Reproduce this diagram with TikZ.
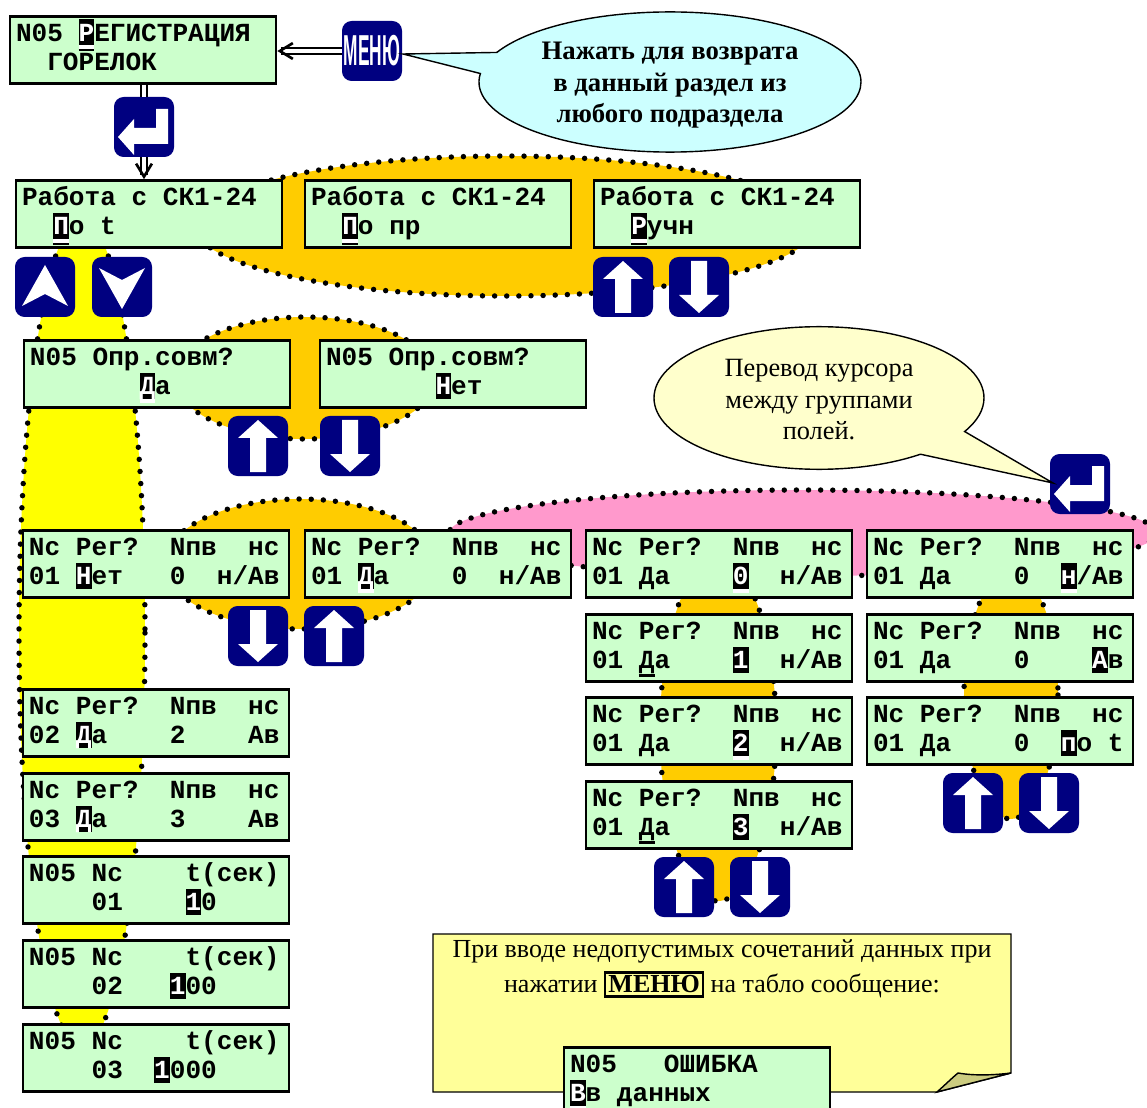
\documentclass[tikz,border=0pt]{standalone}
\usepackage{xcolor}
\usepackage{fontspec}
\usepackage{tikz}
\usetikzlibrary{arrows.meta}
\usetikzlibrary{shapes.geometric, shapes.callouts}
\setmainfont{Liberation Serif}
\setsansfont{Liberation Sans}
\setmonofont{Liberation Mono}
\definecolor{lcdgreen}{HTML}{CCFFCC}
\definecolor{keyblue}{HTML}{000080}
\definecolor{blobgold}{HTML}{FFCC00}
\definecolor{blobyellow}{HTML}{FFFF00}
\definecolor{blobpink}{HTML}{FF99CC}
\definecolor{tipcyan}{HTML}{CCFFFF}
\definecolor{tipcream}{HTML}{FFFFCC}
\definecolor{notecream}{HTML}{FFFF99}
\definecolor{foldtan}{HTML}{CCCC80}
% cursor cell, then the same with a white band, with band and underline; plain underline
\newcommand{\curs}[1]{\leavevmode\rlap{\color{black}\rule[-0.15em]{0.6em}{1em}}\textcolor{white}{#1}}
\newcommand{\cursw}[1]{\leavevmode\rlap{\color{white}\rule[-0.3em]{0.6em}{0.15em}}\curs{#1}}
\newcommand{\cursu}[1]{\leavevmode\rlap{\color{black}\rule[-0.38em]{0.6em}{0.08em}}\cursw{#1}}
\newcommand{\undl}[1]{\leavevmode\rlap{\color{black}\rule[-0.3em]{0.6em}{0.1em}}#1}
\tikzset{
    lcd/.style={draw, line width=1.5pt, fill=lcdgreen, minimum width=266*0.02cm, minimum height=67*0.02cm,
        text width=254*0.02cm, inner sep=0pt, align=left, text height=14.2pt, text depth=23.8pt,
        font=\ttfamily\bfseries\fontsize{14.85}{16.7}\selectfont},
    keybox/.style={fill=keyblue, rounded corners=5.5pt, minimum size=60*0.02cm, inner sep=0pt},
    blob/.style={line width=3.1pt, line cap=round, dash pattern=on 0pt off 6.9pt},
    dbl/.style={double, double distance=1.9pt, line width=1.1pt},
    barb/.style={-{Straight Barb[length=7.4pt,width=9pt,line width=1.5pt]}},
    tipbubble/.style={ellipse callout, draw, line width=0.8pt, inner sep=0pt, align=center,
        font=\fontsize{15}{17.9}\selectfont},
}
\begin{document}
\begin{tikzpicture}[x=0.02cm,y=-0.02cm]
    \useasboundingbox (0,0) rectangle (1147,1108);
    \clip (0,0) rectangle (1147,1108);
    % Background blobs
    \draw[blob, fill=blobyellow] (82,633) ellipse[x radius=63, y radius=415];
    \draw[blob, fill=blobpink] (803,533) ellipse[x radius=354, y radius=43];
    \draw[blob, fill=blobgold] (505,226) ellipse[x radius=310, y radius=70];
    \draw[blob, fill=blobgold] (305,378) ellipse[x radius=130, y radius=61];
    \draw[blob, fill=blobgold] (300,564) ellipse[x radius=135, y radius=65];
    \draw[blob, fill=blobgold] (718,730) ellipse[x radius=58, y radius=171];
    \draw[blob, fill=blobgold] (1011,695) ellipse[x radius=47, y radius=124];
    % Displays
    \foreach \nm/\x/\y/\txt in {
        regmenu/143/50/{N05 \cursu{Р}ЕГИСТРАЦИЯ\\~~ГОРЕЛОК},
        workt/149/214/{Работа с СК1-24\\~~\cursu{П}о t},
        workpr/438/214/{Работа с СК1-24\\~~\cursu{П}о пр},
        workman/727/214/{Работа с СК1-24\\~~\cursu{Р}учн},
        polyes/157/374/{N05 Опр.совм?\\~~~~~~~\cursw{Д}а},
        polno/453/374/{N05 Опр.совм?\\~~~~~~~\curs{Н}ет},
        regno/156/564/{Nc Рег?~~Nпв~~нс\\01 \curs{Н}ет~~~0~~н/Ав},
        regyes/438/564/{Nc Рег?~~Nпв~~нс\\01 \cursw{Д}а~~~~0~~н/Ав},
        pvzero/719/564/{Nc Рег?~~Nпв~~нс\\01 Да~~~~\cursw{0}~~н/Ав},
        pvone/719/648/{Nc Рег?~~Nпв~~нс\\01 \undl{Д}а~~~~\curs{1}~~н/Ав},
        pvtwo/719/731/{Nc Рег?~~Nпв~~нс\\01 Да~~~~\cursw{2}~~н/Ав},
        pvthree/719/815/{Nc Рег?~~Nпв~~нс\\01 \undl{Д}а~~~~\curs{3}~~н/Ав},
        nsna/1000/564/{Nc Рег?~~Nпв~~нс\\01 Да~~~~0~~\cursw{н}/Ав},
        nsav/1000/648/{Nc Рег?~~Nпв~~нс\\01 Да~~~~0~~~~\curs{А}в},
        nspot/1000/731/{Nc Рег?~~Nпв~~нс\\01 Да~~~~0~~\curs{п}о t},
        regtwo/156/723/{Nc Рег?~~Nпв~~нс\\02 \curs{Д}а~~~~2~~~~Ав},
        regthree/156/807/{Nc Рег?~~Nпв~~нс\\03 \curs{Д}а~~~~3~~~~Ав},
        tone/156/890/{N05 Nc~~~~t(сек)\\~~~~01~~~~\curs{1}0},
        ttwo/156/974/{N05 Nc~~~~t(сек)\\~~~~02~~~\curs{1}00},
        tthree/156/1058/{N05 Nc~~~~t(сек)\\~~~~03~~\curs{1}000}%
    } {
        \node[lcd] (\nm) at (\x,\y) {\spaceskip=0.6em\relax\txt};
    }
    % Keys with arrows
    \foreach \nm/\x/\y/\s in {upa/623/287/1, dna/699/287/-1, upb/258/446/1, dnb/350/446/-1, dnc/258/636/-1, upc/334/636/1, upd/684/887/1, dnd/760/887/-1, upe/973/803/1, dne/1049/803/-1} {
        \node[keybox] (\nm) at (\x,\y) {};
        \fill[white, shift={(\x,\y)}, yscale=\s] (0,-26) -- (20,-8) -- (8,-8) -- (8,26) -- (-8,26) -- (-8,-8) -- (-20,-8) -- cycle;
    }
    \foreach \nm/\x/\s in {chevup/45/1, chevdn/122/-1} {
        \node[keybox] (\nm) at (\x,287) {};
        \fill[white, shift={(\x,287)}, yscale=\s] (0,-22) -- (23,19) -- (0,7) -- (-23,19) -- cycle;
    }
    \foreach \nm/\x/\y in {entera/144/127, enterb/1080/484} {
        \node[keybox] (\nm) at (\x,\y) {};
        \fill[white, shift={(\x,\y)}] (-26,10) -- (-10,-8) -- (-10,1) -- (12,1) -- (12,-18) -- (24,-18) -- (24,17) -- (-10,17) -- (-10,28) -- cycle;
    }
    \node[keybox, text=white] (menukey) at (372,51) {\sffamily\bfseries\scalebox{0.58}[1.45]{\fontsize{17}{17}\selectfont МЕНЮ}};
    % Connectors
    \draw[dbl, barb] (menukey.west) -- (regmenu.east |- menukey.west);
    \draw[dbl] (regmenu.south -| entera.north) -- (entera.north);
    \draw[dbl, barb] (entera.south) -- (workt.north -| entera.south);
    % Callouts
    \node[tipbubble, fill=tipcyan, minimum width=382*0.02cm, minimum height=136*0.02cm, callout absolute pointer={(403,54)}, callout pointer arc=18, text height=51.4pt, text depth=5pt, font=\bfseries\fontsize{15.2}{17.9}\selectfont] (backtip) at (670,82) {Нажать для возврата\\в данный раздел из\\любого подраздела};
    \node[tipbubble, fill=tipcream, minimum width=330*0.02cm, minimum height=140*0.02cm, callout absolute pointer={(1053,483)}, callout pointer arc=24, text height=52.4pt, text depth=5pt] (cursortip) at (819,398) {Перевод курсора\\между группами\\полей.};
    % Note with folded corner
    \draw[line width=0.8pt, fill=notecream] (433,934) -- (1011,934) -- (1011,1073) -- (937,1092) -- (433,1092) -- cycle;
    \draw[line width=0.8pt, fill=foldtan] (937,1092) .. controls (946,1084) and (952,1078) .. (958,1073) .. controls (975,1076) and (995,1075) .. (1011,1073) -- cycle;
    \node[align=center, font=\fontsize{14.8}{20.2}\selectfont] (notetext) at (722,969) {При вводе недопустимых сочетаний данных при\\нажатии {\setlength{\fboxsep}{1.2pt}\setlength{\fboxrule}{1.3pt}\fbox{\textbf{МЕНЮ}}} на табло сообщение:};
    \node[lcd] (errlcd) at (697,1081) {\spaceskip=0.6em\relax N05~~~ОШИБКА\\\cursw{В}в данных};
\end{tikzpicture}
\end{document}
